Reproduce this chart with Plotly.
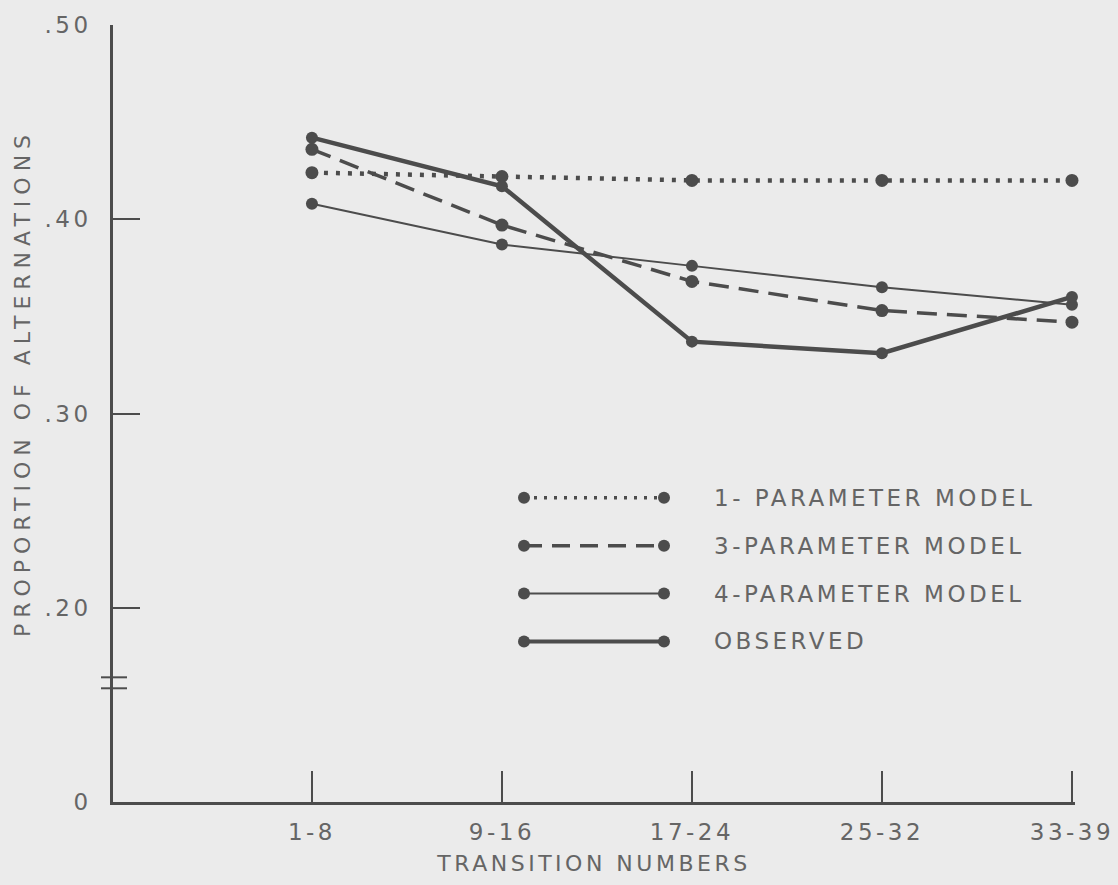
import plotly.graph_objects as go

# ---- data ----
categories = ["1-8", "9-16", "17-24", "25-32", "33-39"]
one_param = [0.424, 0.422, 0.420, 0.420, 0.420]
three_param = [0.436, 0.397, 0.368, 0.353, 0.347]
four_param = [0.408, 0.387, 0.376, 0.365, 0.356]
observed = [0.442, 0.417, 0.337, 0.331, 0.360]

y_tickvals = [0.10, 0.20, 0.30, 0.40, 0.50]
y_ticktext = ["0", ".20", ".30", ".40", ".50"]

series_names = ["1- PARAMETER MODEL", "3-PARAMETER MODEL", "4-PARAMETER MODEL", "OBSERVED"]
y_title = "PROPORTION OF ALTERNATIONS"
x_title = "TRANSITION NUMBERS"

# ---- styles ----
INK = "#4c4c4c"
TXT = "#656565"
BG = "#ebebeb"
FONT = "DejaVu Sans"
FS = 23

W, H = 1118, 885
L, R, T, B = 113, 43, 23, 83
PW, PH = W - L - R, H - T - B

def px_x(px):
    return (px - L) / PW

def px_y(py):
    return (H - B - py) / PH

styles = [
    dict(dash="4px,8px", width=4.5, size=13),
    dict(dash="20px,10px", width=3.5, size=13),
    dict(dash="solid", width=2, size=12),
    dict(dash="solid", width=4.5, size=12),
]
legend_lines = [("3px,7px", 3.5), ("18px,10px", 3.5), ("solid", 2), ("solid", 4)]
series = [one_param, three_param, four_param, observed]

fig = go.Figure()
for vals, st, name in zip(series, styles, series_names):
    fig.add_trace(go.Scatter(
        x=categories, y=vals, mode="lines+markers", name=name,
        line=dict(color=INK, width=st["width"], dash=st["dash"]),
        marker=dict(color=INK, size=st["size"], symbol="circle"),
        cliponaxis=False, showlegend=False,
    ))

shapes = []
annotations = []

# custom legend (lines with markers at both ends)
rows_y = [497, 545, 593, 641]
x0p, x1p = 524, 664
for ry, (ld, lw), name in zip(rows_y, legend_lines, series_names):
    shapes.append(dict(type="line", xref="paper", yref="paper",
                       x0=px_x(x0p), x1=px_x(x1p), y0=px_y(ry), y1=px_y(ry),
                       line=dict(color=INK, width=lw, dash=ld)))
    for xp in (x0p, x1p):
        r = 6
        shapes.append(dict(type="circle", xref="paper", yref="paper",
                           xsizemode="pixel", ysizemode="pixel",
                           xanchor=px_x(xp), yanchor=px_y(ry),
                           x0=-r, x1=r, y0=-r, y1=r,
                           fillcolor=INK, line=dict(color=INK, width=0)))
    annotations.append(dict(xref="paper", yref="paper", x=px_x(712), y=px_y(ry),
                            text=name, showarrow=False, xanchor="left", yanchor="middle",
                            font=dict(family=FONT, size=FS, color=TXT)))

# axis break marks
for by in (677, 688):
    shapes.append(dict(type="line", xref="paper", yref="paper",
                       x0=px_x(101), x1=px_x(127), y0=px_y(by), y1=px_y(by),
                       line=dict(color=INK, width=2)))

# y-axis title
annotations.append(dict(xref="paper", yref="paper", x=px_x(22), y=px_y(382),
                        text=y_title, textangle=-90,
                        showarrow=False, xanchor="center", yanchor="middle",
                        font=dict(family=FONT, size=FS - 1, color=TXT)))

fig.update_layout(
    width=W, height=H,
    margin=dict(l=L, r=R, t=T, b=B),
    paper_bgcolor=BG, plot_bgcolor=BG,
    font=dict(family=FONT, color=TXT, size=FS),
    shapes=shapes, annotations=annotations,
    showlegend=False,
)
fig.update_xaxes(
    type="category", range=[-1.047, 4.016],
    showgrid=False, zeroline=False,
    showline=True, linecolor=INK, linewidth=2.5,
    ticks="inside", ticklen=31, tickwidth=2, tickcolor=INK,
    ticklabelstandoff=8,
    tickfont=dict(family=FONT, size=FS, color=TXT),
    title=dict(text=x_title, standoff=12,
               font=dict(family=FONT, size=FS - 1, color=TXT)),
)
fig.update_yaxes(
    range=[0.10, 0.50],
    tickvals=y_tickvals, ticktext=y_ticktext,
    showgrid=False, zeroline=False,
    showline=True, linecolor=INK, linewidth=2.5,
    ticks="inside", ticklen=27, tickwidth=2, tickcolor=INK,
    ticklabelstandoff=14,
    tickfont=dict(family=FONT, size=FS, color=TXT),
)

legend_js = "[" + ",".join("'%s'" % n for n in series_names) + "]"
post = """
document.body.style.margin='0';
document.body.style.background='%s';
var gd=document.getElementById('{plot_id}');
var legendNames=%s;
gd.querySelectorAll('text').forEach(function(t){
  var txt=t.textContent;
  if (legendNames.indexOf(txt) >= 0) {
    var b=t.getBBox();
    t.style.letterSpacing='3.5px';
    t.setAttribute('text-anchor','start');
    t.setAttribute('x', b.x);
  } else if (txt === '%s') {
    t.style.letterSpacing='6px';
  } else {
    t.style.letterSpacing='3.5px';
  }
});
""" % (BG, legend_js, y_title)

fig.write_html("out.html", post_script=post, config={"displayModeBar": False})
